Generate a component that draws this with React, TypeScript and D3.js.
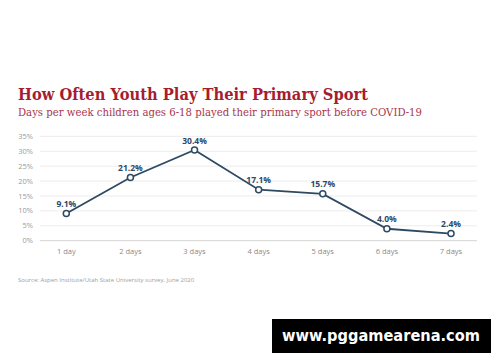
import React, { useEffect, useRef } from "react";
import * as d3 from "d3";

const days = ["1 day", "2 days", "3 days", "4 days", "5 days", "6 days", "7 days"];
const shares = [9.1, 21.2, 30.4, 17.1, 15.7, 4.0, 2.4];
const yTicks = [0, 5, 10, 15, 20, 25, 30, 35];

const W = 500;
const H = 362;

export default function App() {
  const ref = useRef<SVGSVGElement>(null);

  useEffect(() => {
    const svg = d3.select(ref.current);
    svg.selectAll("*").remove();

    // background
    svg.append("rect").attr("width", W).attr("height", H).attr("fill", "#fff");

    // titles
    svg.append("text")
      .attr("x", 18).attr("y", 100)
      .attr("font-family", "DejaVu Serif")
      .attr("font-weight", "bold")
      .attr("font-size", 16)
      .attr("textLength", 350)
      .attr("lengthAdjust", "spacingAndGlyphs")
      .attr("fill", "#a51d2f")
      .text("How Often Youth Play Their Primary Sport");

    svg.append("text")
      .attr("x", 18).attr("y", 116)
      .attr("font-family", "DejaVu Serif")
      .attr("font-size", 11)
      .attr("textLength", 404)
      .attr("lengthAdjust", "spacingAndGlyphs")
      .attr("fill", "#a8354a")
      .text("Days per week children ages 6-18 played their primary sport before COVID-19");

    // scales
    const x = d3.scalePoint<string>().domain(days).range([66.3, 451]);
    const y = d3.scaleLinear().domain([0, 35]).range([240.7, 136.3]);

    // grid + y labels
    const grid = svg.append("g");
    grid.selectAll("line")
      .data(yTicks)
      .join("line")
      .attr("x1", 40).attr("x2", 477)
      .attr("y1", (d) => y(d)).attr("y2", (d) => y(d))
      .attr("stroke", (d) => (d === 0 ? "#d4d4d4" : "#ececec"))
      .attr("stroke-width", 1);

    grid.selectAll("text")
      .data(yTicks)
      .join("text")
      .attr("x", 33)
      .attr("y", (d) => y(d))
      .attr("dy", "0.35em")
      .attr("text-anchor", "end")
      .attr("font-family", "Open Sans")
      .attr("font-size", 7.5)
      .attr("fill", "#9a9a9a")
      .text((d) => d + "%");

    // x labels
    svg.append("g").selectAll("text")
      .data(days)
      .join("text")
      .attr("x", (d) => x(d) as number)
      .attr("y", 254)
      .attr("text-anchor", "middle")
      .attr("font-family", "Open Sans")
      .attr("font-size", 7.5)
      .attr("fill", "#8a8a8a")
      .text((d) => d);

    // line
    const line = d3.line<number>()
      .x((_, i) => x(days[i]) as number)
      .y((d) => y(d));

    svg.append("path")
      .datum(shares)
      .attr("d", line)
      .attr("fill", "none")
      .attr("stroke", "#2e4a62")
      .attr("stroke-width", 1.8);

    const pts = svg.append("g").selectAll("g")
      .data(shares)
      .join("g");

    pts.append("circle")
      .attr("cx", (_, i) => x(days[i]) as number)
      .attr("cy", (d) => y(d))
      .attr("r", 3)
      .attr("fill", "#fff")
      .attr("stroke", "#2e4a62")
      .attr("stroke-width", 1.5);

    pts.append("text")
      .attr("x", (_, i) => x(days[i]) as number)
      .attr("y", (d) => y(d) - 6.5)
      .attr("text-anchor", "middle")
      .attr("font-family", "Open Sans")
      .attr("font-weight", "bold")
      .attr("font-size", 8.5)
      .attr("fill", "#2b4a6b")
      .text((d) => d.toFixed(1) + "%");

    // source
    svg.append("text")
      .attr("x", 18).attr("y", 282)
      .attr("font-family", "Open Sans")
      .attr("font-size", 6)
      .attr("fill", "#a0a0a0")
      .text("Source: Aspen Institute/Utah State University survey, June 2020");

    // watermark
    svg.append("rect")
      .attr("x", 272).attr("y", 319)
      .attr("width", 219).attr("height", 34)
      .attr("fill", "#000");
    svg.append("text")
      .attr("x", 282).attr("y", 341)
      .attr("font-family", "DejaVu Sans")
      .attr("font-weight", "bold")
      .attr("font-size", 15)
      .attr("textLength", 198)
      .attr("lengthAdjust", "spacingAndGlyphs")
      .attr("fill", "#fff")
      .text("www.pggamearena.com");
  }, []);

  return (
    <svg
      ref={ref}
      width={W}
      height={H}
      style={{ position: "absolute", left: 0, top: 0, display: "block" }}
    />
  );
}
